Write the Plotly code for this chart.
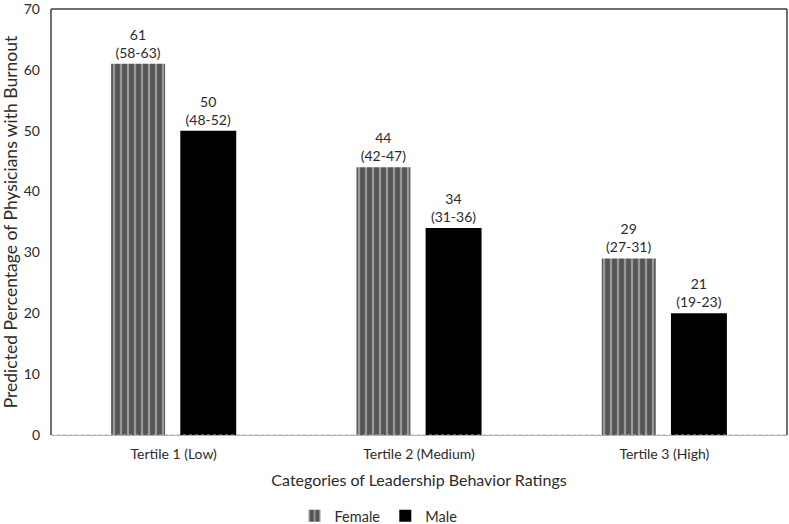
import plotly.graph_objects as go

categories = ["Tertile 1 (Low)", "Tertile 2 (Medium)", "Tertile 3 (High)"]
female_values = [61, 44, 29]
male_values = [50, 34, 20]
female_labels = ["61<br>(58-63)", "44<br>(42-47)", "29<br>(27-31)"]
male_labels = ["50<br>(48-52)", "34<br>(31-36)", "21<br>(19-23)"]
y_ticks = [0, 10, 20, 30, 40, 50, 60, 70]

FONT = "Lato, Carlito, 'Open Sans', sans-serif"
TXT = "#2b2b2b"

fig = go.Figure()
fig.add_trace(go.Bar(
    name="Female", x=categories, y=female_values,
    text=female_labels, textposition="outside", cliponaxis=False,
    width=0.22, offset=-0.255,
    marker=dict(color="#999999", line=dict(width=0),
                pattern=dict(shape="|", fgcolor="#111111", bgcolor="#999999",
                             size=7, solidity=0.68, fillmode="overlay")),
    textfont=dict(size=14, color=TXT, family=FONT),
))
fig.add_trace(go.Bar(
    name="Male", x=categories, y=male_values,
    text=male_labels, textposition="outside", cliponaxis=False,
    width=0.228, offset=0.027,
    marker=dict(color="#000000", line=dict(width=0)),
    textfont=dict(size=14, color=TXT, family=FONT),
))

fig.update_layout(
    width=789, height=524,
    margin=dict(l=51, r=2, t=9, b=89, autoexpand=False),
    paper_bgcolor="white", plot_bgcolor="white",
    barmode="overlay",
    font=dict(family=FONT, color=TXT, size=14),
    showlegend=True,
    legend=dict(orientation="h", x=0.445, xanchor="center", y=-0.19, yanchor="middle",
                font=dict(size=14.5, color=TXT, family=FONT), itemwidth=30,
                traceorder="normal", itemsizing="constant"),
    xaxis=dict(
        showgrid=False, zeroline=False, ticks="", automargin=False,
        showline=True, linecolor="#b0b0b0", linewidth=1,
        tickfont=dict(size=14, color=TXT), ticklabelstandoff=6,
        title=dict(text="Categories of Leadership Behavior Ratings",
                   font=dict(size=16, color=TXT), standoff=14),
        range=[-0.5, 2.5],
    ),
    yaxis=dict(
        range=[0, 70], tickvals=y_ticks, showgrid=False, zeroline=False,
        ticks="", showline=False, tickfont=dict(size=14, color=TXT),
        ticklabelstandoff=10, automargin=False, ticklabeloverflow="allow",
        title=dict(text="Predicted Percentage of Physicians with Burnout",
                   font=dict(size=17.5, color=TXT), standoff=5),
    ),
    shapes=[
        dict(type="line", xref="paper", yref="paper", x0=0, x1=1, y0=1, y1=1,
             line=dict(color="#404040", width=1.5)),
        dict(type="line", xref="paper", yref="paper", x0=0, x1=0, y0=0, y1=1,
             line=dict(color="#404040", width=1.5)),
        dict(type="line", xref="paper", yref="paper", x0=1, x1=1, y0=0, y1=1,
             line=dict(color="#404040", width=1.5)),
        dict(type="line", xref="paper", yref="paper", x0=0, x1=1, y0=0, y1=0,
             line=dict(color="#b0b0b0", width=1, dash="dot")),
    ],
)

fig.write_html("out.html", config={"displayModeBar": False},
               post_script="document.body.style.margin='0';")
